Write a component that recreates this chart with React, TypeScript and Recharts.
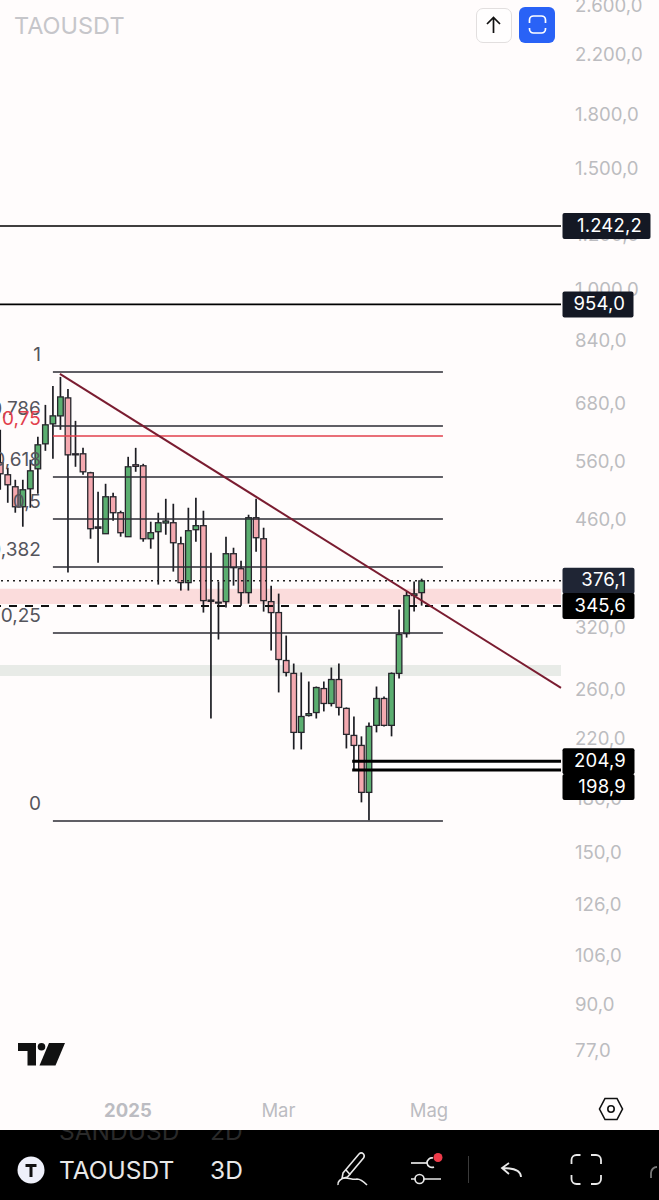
import React from "react";
import { ComposedChart, XAxis, YAxis, Bar, ReferenceLine, ReferenceArea } from "recharts";

const FONT = "Inter, 'Liberation Sans', sans-serif";
const BG = "#fffcfc";

// One candle every three days
const highs = [625.4,550.4,528.6,528.6,565.4,610.8,680.2,725.1,747.4,717.8,644.6,588.6,543,507.7,521.5,505.9,476.3,571.1,588.6,557.8,459,473.1,495.8,487.6,436.4,481.1,497.5,476.3,413.5,375.2,436.4,420.5,402.5,469.9,495.8,449.8,370.1,360.3,312.8,284.7,276.3,268,263.5,268,280.9,284.7,245.6,238.2,222.8,233.5,263.5,254.8,276.3,341.4,362.8,375.2,378.9];
const opens = [559.7,537.6,516.3,482.7,512.8,548.5,596.6,638.1,655.5,696.4,576.9,576.9,541.2,451,440.8,499.2,473.1,436.4,556,554.1,433.4,443.8,457,457.4,426.2,373.9,446.8,452.9,352.5,350,350.7,412.1,391.8,361.5,465.2,433.4,350.7,338,287.6,275.4,225.8,239,241.4,261.7,248.9,269.8,244.8,223.5,216.1,184.5,231.2,253.1,231.2,275.4,314.9,358,361.5];
const closes = [539.4,519.8,482.7,511.1,544.8,594.6,636,655.5,698.7,574.9,574.9,543,448.3,449,499.2,473.1,442.3,552.2,553,433.4,442.3,457.4,460,427.6,373.9,445.3,452.9,351.9,351,349,412.1,393.2,361.5,465.2,434.9,351.9,338,288.6,276.3,225.8,238.2,240.5,262.6,248.9,269.8,245.6,224.3,216.1,184.5,230.4,253.1,231.2,275.4,313.9,357.9,360,376.1];
const lows = [511.1,489.2,473.1,451.3,481.1,504.3,582.7,567.2,625.4,386.7,552.2,537.6,433.4,399.8,440.8,460.5,436.4,436.4,543,429.1,419.1,371.4,439.3,388,364,364,429.1,338,236.6,308.7,343.7,370.1,346,348.4,414.9,339.1,297.5,258.3,272.6,213.2,213.2,238.2,236.6,242.3,246.4,239,213.9,199.4,178.4,167.9,225.8,230.4,222.8,270.8,310.7,339.1,346];

const candles = highs.map((high, i) => ({ i, high, low: lows[i], open: opens[i], close: closes[i] }));

const priceTicks = [2600,2200,1800,1500,1200,1000,840,680,560,460,380,320,260,220,180,150,126,106,90,77];
const priceTickLabels: Record<number, string> = {2600:"2.600,0",2200:"2.200,0",1800:"1.800,0",1500:"1.500,0",1200:"1.200,0",1000:"1.000,0",840:"840,0",680:"680,0",560:"560,0",460:"460,0",380:"380,0",320:"320,0",260:"260,0",220:"220,0",180:"180,0",150:"150,0",126:"126,0",106:"106,0",90:"90,0",77:"77,0"};
const timeTicks = [17, 37, 57];
const timeLabels: Record<number, string> = { 17: "2025", 37: "Mar", 57: "Mag" };

const fibLevels = [
  { label: "1", price: 760, color: "#2b2b33" },
  { label: "0,786", price: 633.7, color: "#2b2b33" },
  { label: "0,75", price: 612.8, color: "#e2404c" },
  { label: "0,618", price: 533.7, color: "#2b2b33" },
  { label: "0,5", price: 463.3, color: "#2b2b33" },
  { label: "0,382", price: 394.2, color: "#2b2b33" },
  { label: "0,25", price: 315.6, color: "#2b2b33" },
  { label: "0", price: 167.6, color: "#2b2b33" },
];
const fibStart = 7.03;
const fibEnd = 58.86;

const trendFrom = { x: 7.96, price: 754.9 };
const trendTo = { x: 74.55, price: 262.3 };

const pinkZone = [348, 366.1];
const greyZone = [273.1, 283.4];

const solidLevels = [
  { price: 1242.2, text: "1.242,2", w: 88, dy: 0, fill: "#141824" },
  { price: 954, text: "954,0", w: 71, dy: 0, fill: "#141824" },
];
const thickLevels = [
  { price: 204.9, text: "204,9", w: 72, dy: 0, fill: "#000" },
  { price: 198.9, text: "198,9", w: 72, dy: 17, fill: "#000" },
];
const thickStart = 46.8;
const lastPrice = 376.1;
const dashedPrice = 345.6;
const xMax = 74.55;
const yDomain = [67.5, 2659];

function Candle(props: any) {
  const { x, y, width, height, payload } = props;
  const lh = Math.log(payload.high);
  const ll = Math.log(payload.low);
  const yOf = (p: number) => y + (height * (lh - Math.log(p))) / (lh - ll);
  const up = payload.close >= payload.open;
  const top = yOf(Math.max(payload.open, payload.close));
  const bot = yOf(Math.min(payload.open, payload.close));
  const cx = x + width / 2;
  return (
    <g>
      <line x1={cx} x2={cx} y1={y} y2={y + height} stroke="#1c1c22" strokeWidth={1.7} />
      <rect x={cx - 2.8} y={top} width={5.6} height={Math.max(bot - top, 0.8)} fill={up ? "#5bae70" : "#f4a9b0"} stroke="#26262c" strokeWidth={1.3} />
    </g>
  );
}

function PriceTag({ viewBox, text, w, dy, fill }: any) {
  const yc = viewBox.y + dy;
  return (
    <g>
      <rect x={562.5} y={yc - 13} width={w} height={26} rx={2} fill={fill} />
      <text x={562.5 + w - 8.5} y={yc + 0.5} dominantBaseline="middle" textAnchor="end" fill="#fff" fontFamily={FONT} fontSize={18.5} letterSpacing={0.2}>{text}</text>
    </g>
  );
}

function FibLabel({ viewBox, text, color }: any) {
  return (
    <text x={viewBox.x - 12} y={viewBox.y - 16.5} dominantBaseline="middle" textAnchor="end" fill={color === "#e2404c" ? color : "#55555c"} fontFamily={FONT} fontSize={19}>{text}</text>
  );
}

function PriceTick({ y, payload }: any) {
  return (
    <text x={575} y={y} dominantBaseline="middle" textAnchor="start" fill="#bcbcc0" fontFamily={FONT} fontSize={18.6}>
      {priceTickLabels[payload.value]}
    </text>
  );
}

function TimeTick({ x, y, payload }: any) {
  return (
    <text x={x} y={y} dominantBaseline="middle" textAnchor="middle" fill="#bcbcc2" fontFamily={FONT} fontSize={18.5} fontWeight={payload.value === 17 ? 700 : 400}>
      {timeLabels[payload.value]}
    </text>
  );
}

const abs = (left: number, top: number, extra: React.CSSProperties = {}): React.CSSProperties => ({ position: "absolute", left, top, ...extra });

export default function App() {
  return (
    <div style={abs(0, 0, { width: 659, height: 1200, background: BG, overflow: "hidden", fontFamily: FONT })}>
      <ComposedChart width={659} height={1131} data={candles} margin={{ top: 0, right: 0, bottom: 0, left: 0 }}>
        <XAxis dataKey="i" type="number" domain={[0, xMax]} ticks={timeTicks} height={40} axisLine={false} tickLine={false} tick={<TimeTick />} tickMargin={15} interval={0} allowDataOverflow />
        <YAxis orientation="right" width={98} scale="log" domain={yDomain} ticks={priceTicks} axisLine={false} tickLine={false} tick={<PriceTick />} interval={0} allowDataOverflow />

        <ReferenceArea y1={pinkZone[0]} y2={pinkZone[1]} fill="#fbdcdc" fillOpacity={1} stroke="none" ifOverflow="visible" />
        <ReferenceArea y1={greyZone[0]} y2={greyZone[1]} fill="#e8ebe7" fillOpacity={1} stroke="none" ifOverflow="visible" />

        {fibLevels.map((f) => (
          <ReferenceLine key={f.label} segment={[{ x: fibStart, y: f.price }, { x: fibEnd, y: f.price }]} stroke={f.color} strokeWidth={1.5} ifOverflow="visible" label={<FibLabel text={f.label} color={f.color} />} />
        ))}

        <ReferenceLine y={lastPrice} stroke="#222" strokeWidth={1.5} strokeDasharray="2 4" />
        <ReferenceLine y={dashedPrice} stroke="#111" strokeWidth={1.8} strokeDasharray="8 8" />

        {solidLevels.map((l) => (
          <ReferenceLine key={l.text} y={l.price} stroke="#000" strokeWidth={1.6} />
        ))}
        {thickLevels.map((l) => (
          <ReferenceLine key={l.text} segment={[{ x: thickStart, y: l.price }, { x: xMax, y: l.price }]} stroke="#000" strokeWidth={3} ifOverflow="visible" />
        ))}

        <Bar dataKey={(d: any) => [d.low, d.high]} barSize={6} shape={<Candle />} isAnimationActive={false} />

        <ReferenceLine segment={[{ x: trendFrom.x, y: trendFrom.price }, { x: trendTo.x, y: trendTo.price }]} stroke="#7a1c30" strokeWidth={2} ifOverflow="visible" />
      </ComposedChart>

      {/* Price tags sit above the axis labels, on the same scales */}
      <div style={abs(0, 0)}>
        <ComposedChart width={659} height={1131} data={candles} margin={{ top: 0, right: 98, bottom: 40, left: 0 }}>
          <XAxis dataKey="i" type="number" domain={[0, xMax]} hide allowDataOverflow />
          <YAxis scale="log" domain={yDomain} hide allowDataOverflow />
          <ReferenceLine y={lastPrice} stroke="none" label={<PriceTag text="376,1" w={72} dy={0} fill="#1f2534" />} />
          <ReferenceLine y={dashedPrice} stroke="none" label={<PriceTag text="345,6" w={72} dy={0} fill="#000" />} />
          {solidLevels.map((l) => (
            <ReferenceLine key={l.text} y={l.price} stroke="none" label={<PriceTag text={l.text} w={l.w} dy={l.dy} fill={l.fill} />} />
          ))}
          {thickLevels.map((l) => (
            <ReferenceLine key={l.text} y={l.price} stroke="none" label={<PriceTag text={l.text} w={l.w} dy={l.dy} fill={l.fill} />} />
          ))}
        </ComposedChart>
      </div>

      <div style={abs(14, 10, { color: "#c6c6ca", fontSize: 23.5, lineHeight: "32px" })}>TAOUSDT</div>

      <div style={abs(475.5, 7.5, { width: 36, height: 35, border: "1.5px solid #e2dfdf", borderRadius: 7, boxSizing: "border-box", background: "#fffefe" })}>
        <svg width="33" height="32" viewBox="0 0 33 32"><path d="M16.5 24V9M10 15l6.5-6.5L23 15" stroke="#111" strokeWidth="1.7" fill="none" /></svg>
      </div>
      <div style={abs(518.5, 6.5, { width: 36.5, height: 36.5, background: "#2962f6", borderRadius: 6 })}>
        <svg width="36" height="36" viewBox="0 0 36 36"><path d="M10.5 16v-3a4 4 0 0 1 4-4h8a4 4 0 0 1 4 4v3M10.5 21v1a4 4 0 0 0 4 4h8a4 4 0 0 0 4-4v-1" stroke="#fff" strokeWidth="1.7" fill="none" /></svg>
      </div>

      <svg style={abs(18, 1043)} width="48" height="24" viewBox="0 0 48 24">
        <path d="M0 0h18v22.5h-8.5V8H0z" fill="#111" />
        <circle cx="23.5" cy="3.8" r="3.8" fill="#111" />
        <path d="M31 0h16l-9.5 22.5H21.5z" fill="#111" />
      </svg>

      <svg style={abs(598, 1096)} width="26" height="26" viewBox="0 0 26 26">
        <path d="M7 2.5h12L24.5 13 19 23.5H7L1.5 13z" stroke="#111" strokeWidth="1.6" fill="none" />
        <circle cx="13" cy="13" r="3.2" stroke="#111" strokeWidth="1.6" fill="none" />
      </svg>

      <div style={abs(0, 1130, { width: 659, height: 70, background: "#000", overflow: "hidden" })}>
        <div style={abs(59, -14, { color: "#2a2a2a", fontSize: 24.5, lineHeight: "30px", whiteSpace: "nowrap" })}>SANDUSD</div>
        <div style={abs(210, -14, { color: "#2a2a2a", fontSize: 24.5, lineHeight: "30px", whiteSpace: "nowrap" })}>2D</div>
        <div style={abs(59, 25, { color: "#e8e8e8", fontSize: 24.5, lineHeight: "30px", whiteSpace: "nowrap" })}>TAOUSDT</div>
        <div style={abs(210, 25, { color: "#e8e8e8", fontSize: 24.5, lineHeight: "30px", whiteSpace: "nowrap" })}>3D</div>
        <svg style={abs(0, 0)} width="659" height="70" viewBox="0 1130 659 70">
          <circle cx="31" cy="1170" r="13.5" fill="#eef0fa" />
          <path d="M25.5 1165.5h11M31 1165.5v11.5" stroke="#111" strokeWidth="3" fill="none" />
          <path d="M343 1173l16-19c1.5-1.5 3-1.5 4.5 0 1 1.2 1 2.5 0 4l-16 19-5.5 1.5zM346 1170l4.5 5" stroke="#e8e8e8" strokeWidth="1.6" fill="none" />
          <path d="M338 1185c-1-3 3-7 7-7 5 0 8 2 12 1 4 0 7 3 10 6" stroke="#e8e8e8" strokeWidth="1.6" fill="none" />
          <path d="M411 1163h16" stroke="#e8e8e8" strokeWidth="1.7" fill="none" />
          <path d="M434 1167a5 5 0 0 1-7-4 5 5 0 0 1 6-5" stroke="#e8e8e8" strokeWidth="1.7" fill="none" />
          <path d="M411 1179h4M424 1179h17" stroke="#e8e8e8" strokeWidth="1.7" fill="none" />
          <circle cx="419.5" cy="1179" r="4.5" stroke="#e8e8e8" strokeWidth="1.7" fill="none" />
          <circle cx="438" cy="1157.5" r="4.5" fill="#ee3b4a" />
          <line x1="468.5" x2="468.5" y1="1156" y2="1183" stroke="#3a3a3a" strokeWidth="1" />
          <path d="M521 1177c0-6-5-9-19-9M509 1163l-7 5 7 6" stroke="#e8e8e8" strokeWidth="1.8" fill="none" />
          <path d="M571.5 1164v-4a5 5 0 0 1 5-5h4M591 1155h5a5 5 0 0 1 5 5v4M601 1175v4a5 5 0 0 1-5 5h-5M580.5 1184h-4a5 5 0 0 1-5-5v-4" stroke="#e8e8e8" strokeWidth="1.8" fill="none" />
          <path d="M651 1178v-5a6 6 0 0 1 6-6" stroke="#777" strokeWidth="1.8" fill="none" />
        </svg>
      </div>
    </div>
  );
}
